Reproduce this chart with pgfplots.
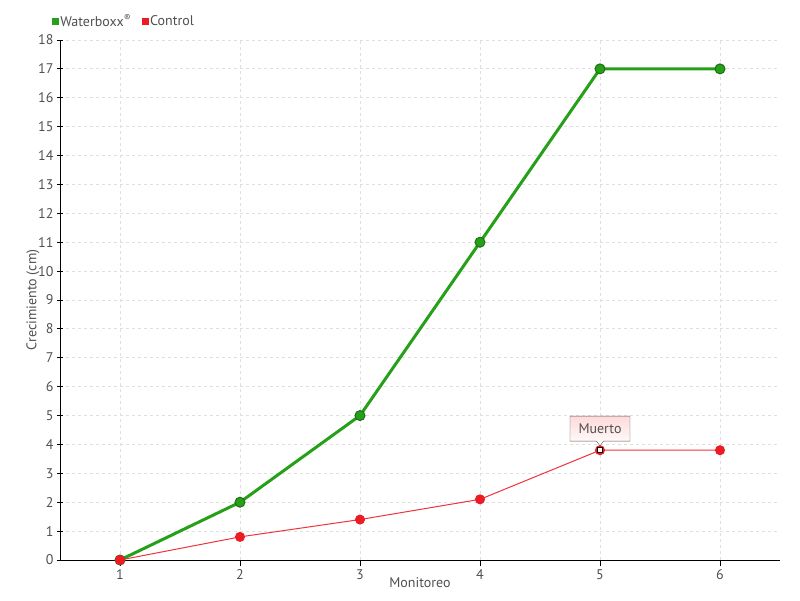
\documentclass[border=0pt]{standalone}
\usepackage{fontspec}
\setmainfont{PT Sans}
\usepackage{pgfplots}
\pgfplotsset{compat=1.18}
\usetikzlibrary{shapes.callouts}
\definecolor{wgreen}{RGB}{38,160,24}
\definecolor{wgreenD}{RGB}{30,110,20}
\definecolor{cred}{RGB}{237,28,36}
\definecolor{txt}{RGB}{80,80,80}

\begin{document}
\begin{tikzpicture}
\begin{axis}[
    at={(0,0)}, anchor=south west,
    scale only axis,
    width=720pt, height=520pt,
    xmin=0.5, xmax=6.5,
    ymin=0, ymax=18,
    xtick={1,...,6},
    ytick={0,1,...,18},
    /pgf/number format/assume math mode=true,
    axis x line*=bottom,
    axis y line*=left,
    axis line style={black, line width=0.8pt, -},
    x tick style={black, line width=0.8pt},
    y tick style={black, line width=0.8pt},
    xtick align=outside,
    ytick align=center,
    major tick length=6pt,
    grid=major,
    major grid style={dashed, gray!25, line width=0.8pt},
    tick label style={font=\fontsize{14}{14}\selectfont, text=txt},
    xlabel={Monitoreo},
    ylabel={Crecimiento (cm)},
    label style={font=\fontsize{14}{14}\selectfont, text=txt},
    xlabel style={yshift=9pt},
    ylabel style={yshift=-8pt},
    legend style={at={(-0.015,1.015)}, anchor=south west, draw=none, fill=none,
        legend columns=2, font=\fontsize{14}{14}\selectfont, text=txt,
        /tikz/every even column/.append style={column sep=9pt}},
    legend cell align=left,
    clip=false,
]
\addlegendimage{only marks, mark=square*, mark size=3pt, color=wgreen}
\addlegendentry{Waterboxx\textsuperscript{®}}
\addlegendimage{only marks, mark=square*, mark size=3pt, color=cred}
\addlegendentry{Control}

\addplot[forget plot, wgreen, line width=3pt, mark=*, mark size=5pt,
    mark options={fill=wgreen, draw=wgreenD, line width=1pt}]
    coordinates {(1,0) (2,2) (3,5) (4,11) (5,17) (6,17)};

\addplot[forget plot, cred!90!white, line width=1pt, mark=*, mark size=4.5pt,
    mark options={fill=cred, draw=cred}]
    coordinates {(1,0) (2,0.8) (3,1.4) (4,2.1) (5,3.8) (6,3.8)};

\addplot[forget plot, only marks, mark=square*, mark size=2.5pt,
    mark options={fill=white, draw=black, line width=1.2pt}]
    coordinates {(5,3.8)};

\node[rectangle callout, draw=gray!70!black, top color=red!15, bottom color=white,
    callout absolute pointer={(axis cs:5,3.95)}, font=\fontsize{14}{14}\selectfont,
    text=txt, minimum width=60pt, minimum height=25pt, inner sep=3pt]
    at (axis cs:5,4.55) {Muerto};
\end{axis}
\path[use as bounding box] (-60pt,-40pt) rectangle (740pt,560pt);
\end{tikzpicture}
\end{document}
